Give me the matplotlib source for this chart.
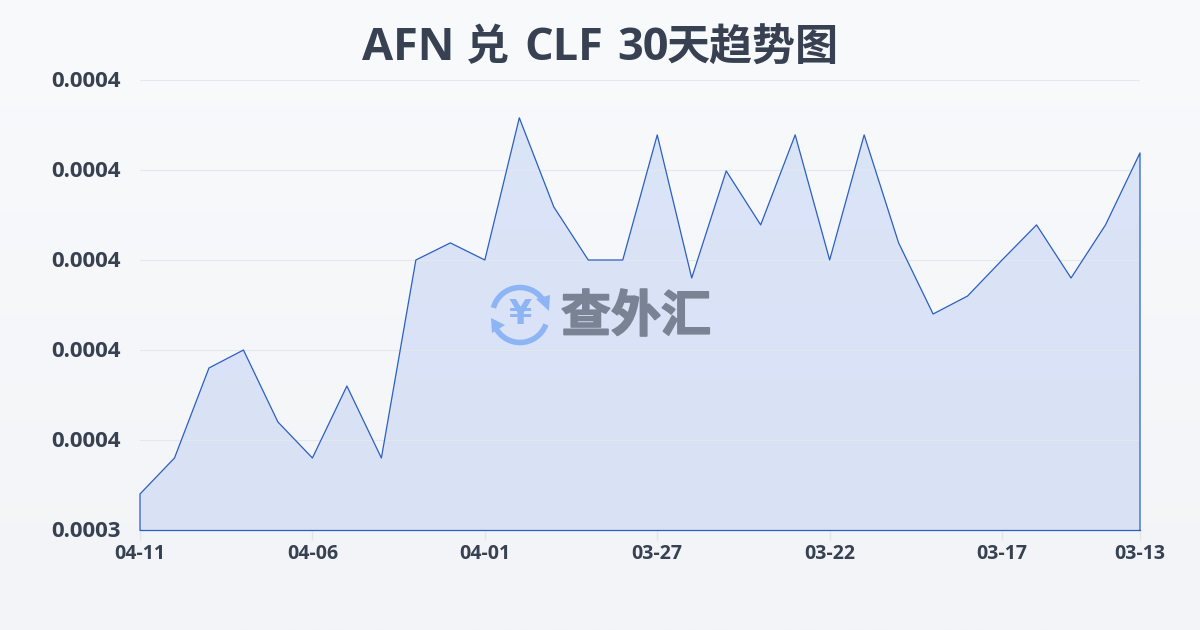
import numpy as np
import matplotlib
matplotlib.use('Agg')
import matplotlib.pyplot as plt
import matplotlib.patheffects as pe
from matplotlib.patches import Arc, Polygon
from matplotlib.transforms import ScaledTranslation

days = ['04-11', '04-10', '04-09', '04-08', '04-07', '04-06', '04-05', '04-04', '04-03', '04-02',
        '04-01', '03-31', '03-30', '03-29', '03-28', '03-27', '03-26', '03-25', '03-24', '03-23',
        '03-22', '03-21', '03-20', '03-19', '03-18', '03-17', '03-16', '03-15', '03-14', '03-13']
rates = [0.000348, 0.000356, 0.000376, 0.000380, 0.000364, 0.000356, 0.000372, 0.000356, 0.000400, 0.0004038,
         0.000400, 0.0004316, 0.0004118, 0.000400, 0.000400, 0.0004278, 0.000396, 0.0004198, 0.0004078, 0.0004278,
         0.000400, 0.0004278, 0.0004038, 0.000388, 0.000392, 0.000400, 0.0004078, 0.000396, 0.0004078, 0.0004238]
y_ticks = [0.00034, 0.00036, 0.00038, 0.00040, 0.00042, 0.00044]
# title pieces: text, left edge in px, font size, font list
title_parts = [('AFN', 362, 32.5, ['Open Sans']),
               ('兑', 466, 31, ['Noto Sans CJK SC']),
               ('CLF', 524, 32.5, ['Open Sans']),
               ('30', 617, 32.5, ['Open Sans']),
               ('天趋势图', 667, 31, ['Noto Sans CJK SC'])]

W, H = 1200, 630
plt.rcParams['font.family'] = ['Open Sans', 'Noto Sans CJK SC', 'DejaVu Sans']
dark = '#374151'
line_col = '#2b5fc4'

fig = plt.figure(figsize=(W / 100, H / 100), dpi=100)

# page background, very soft vertical gradient
bg = fig.add_axes([0, 0, 1, 1], zorder=0)
bg.imshow(np.linspace(0, 1, 256).reshape(-1, 1), aspect='auto', extent=[0, 1, 0, 1],
          cmap=matplotlib.colors.LinearSegmentedColormap.from_list('bg', ['#f9fafc', '#f2f4f7']))
bg.axis('off')

ax = fig.add_axes([140 / W, 1 - 530 / H, 1000 / W, 450 / H], zorder=1)
ax.patch.set_alpha(0)
x = np.arange(len(days))
ax.set_xlim(0, len(days) - 1)
ax.set_ylim(y_ticks[0], y_ticks[-1])

# area fill with gradient, clipped to the series outline
grad = matplotlib.colors.LinearSegmentedColormap.from_list('area', ['#dbe5f8', '#d9e1f5'])
im = ax.imshow(np.linspace(0, 1, 256).reshape(-1, 1), aspect='auto', cmap=grad, zorder=1,
               extent=[0, len(days) - 1, y_ticks[0], y_ticks[-1]])
outline = np.column_stack([np.r_[x[0], x, x[-1]], np.r_[y_ticks[0], rates, y_ticks[0]]])
clip = Polygon(outline, closed=True, transform=ax.transData, fc='none', ec='none')
ax.add_patch(clip)
im.set_clip_path(clip)
ax.plot(outline[:, 0], outline[:, 1], color=line_col, lw=0.9, zorder=3, clip_on=False)
ax.plot([x[0], x[-1]], [y_ticks[0], y_ticks[0]], color=line_col, lw=0.9, zorder=3, clip_on=False)

ax.set_yticks(y_ticks)
ax.set_yticklabels(['%.4f' % v for v in y_ticks], fontsize=16, fontweight='bold', color=dark)
ax.set_xticks(x[::5].tolist() + [x[-1]])
ax.set_xticklabels([days[i] for i in x[::5]] + [days[-1]], fontsize=14, fontweight='bold', color=dark)
ax.tick_params(axis='y', length=0, pad=13.5)
ax.tick_params(axis='x', length=7, width=1, color='#e2e6ec', pad=3)
ax.grid(axis='y', color='#e3e7ee', lw=0.8, zorder=2)
ax.set_axisbelow(False)
for s in ax.spines.values():
    s.set_visible(False)
# y labels sit a little above their grid lines
up = ScaledTranslation(0, 1.5 / 100, fig.dpi_scale_trans)
for lab in ax.get_yticklabels():
    lab.set_transform(lab.get_transform() + up)

for txt, left, size, fam in title_parts:
    fig.text(left / W, 1 - 60.5 / H, txt, ha='left', va='baseline', fontsize=size,
             fontweight='bold', color=dark, family=fam)

# watermark logo, drawn in pixel coords over the chart
wm = fig.add_axes([0, 0, 1, 1], zorder=2)
wm.set_xlim(0, W)
wm.set_ylim(H, 0)
wm.axis('off')
blue = '#8db4f5'
wm.add_patch(Arc((520, 315), 55, 55, theta1=195, theta2=335, color=blue, lw=4))
wm.add_patch(Arc((520, 315), 55, 55, theta1=20, theta2=155, color=blue, lw=4))
wm.add_patch(Polygon([[536, 299], [550, 295], [549, 311]], closed=True, fc=blue, ec='none'))
wm.add_patch(Polygon([[491, 318], [505, 325], [492, 333]], closed=True, fc=blue, ec='none'))
wm.text(520, 315, '¥', ha='center', va='center', fontsize=24, fontweight='bold', color=blue,
        family=['DejaVu Sans'])
wm.text(636, 317, '查外汇', ha='center', va='center', fontsize=36, fontweight='bold', color='#7a8394',
        family=['Noto Sans CJK SC'], path_effects=[pe.withStroke(linewidth=1.2, foreground='#7a8394')])

fig.savefig('out.png', dpi=100)
